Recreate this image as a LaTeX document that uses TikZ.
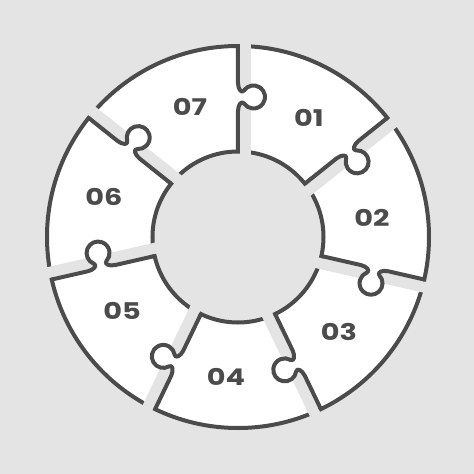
\documentclass[tikz,border=0pt]{standalone}
\usepackage{fontspec}
\newfontfamily\numfont{Poppins}
\definecolor{bggrey}{HTML}{E4E4E4}
\definecolor{linegrey}{HTML}{4B4B4B}
\begin{document}
\begin{tikzpicture}[x=1pt, y=1pt,
        outline/.style={draw=linegrey, line width=4pt},
        cutline/.style={outline, line cap=square, line join=round},
        piecelabel/.style={font=\numfont\bfseries\fontsize{23}{23}\selectfont, text=linegrey, xscale=1.25}]
        % --- Background and ring ---
        \fill[bggrey] (-238,-237) rectangle (236,237);
        \useasboundingbox (-238,-237) rectangle (236,237);
        \coordinate (hub) at (0,0);
        \fill[white, even odd rule] (hub) circle (191) (hub) circle (85.5);
        \draw[outline] (hub) circle (191);
        \draw[outline] (hub) circle (85.5);
        % ---

        % --- Gaps, tabs and cut lines (one per boundary) ---
        \foreach \k in {1,...,7} {
            \begin{scope}[rotate={-(\k-1)*360/7}]
                \fill[bggrey] (2,78) rectangle (13,199);
                \fill[white] (0,154) .. controls (0,148) and (3.5,143) .. (6,146.48)
                    arc[start angle=145.7, end angle=-145.7, radius=11.5]
                    .. controls (3.5,137) and (0,132) .. (0,126) -- cycle;
                \draw[cutline] (0,191) -- (0,154) .. controls (0,148) and (3.5,143) .. (6,146.48)
                    arc[start angle=145.7, end angle=-145.7, radius=11.5]
                    .. controls (3.5,137) and (0,132) .. (0,126) -- (0,85.5);
            \end{scope}
        }
        % ---

        % --- Piece numbers ---
        \node[piecelabel] (lab01) at (71,119) {01};
        \node[piecelabel] (lab02) at (134,19) {02};
        \node[piecelabel] (lab03) at (101,-95) {03};
        \node[piecelabel] (lab04) at (-12,-140) {04};
        \node[piecelabel] (lab05) at (-116,-74) {05};
        \node[piecelabel] (lab06) at (-134,40) {06};
        \node[piecelabel] (lab07) at (-48,130) {07};
        % ---
    \end{tikzpicture}
\end{document}
